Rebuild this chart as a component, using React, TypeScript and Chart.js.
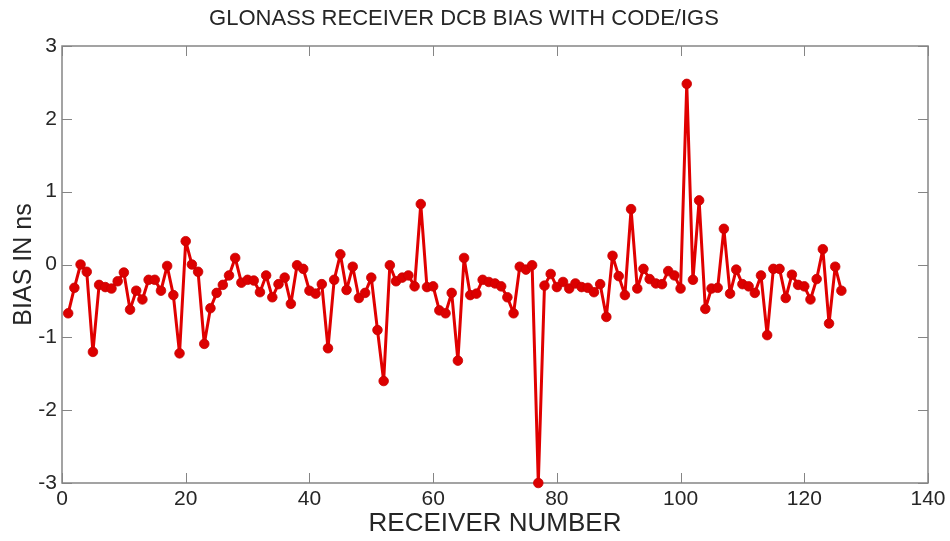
import { useEffect, useRef } from "react";
import { Chart, registerables } from "chart.js";

Chart.register(...registerables);

const chartTitle = "GLONASS RECEIVER DCB BIAS WITH CODE/IGS";
const xAxisTitle = "RECEIVER NUMBER";
const yAxisTitle = "BIAS IN ns";

const xTicks = [0, 20, 40, 60, 80, 100, 120, 140];
const yTicks = [-3, -2, -1, 0, 1, 2, 3];

const dcbBias = [
  -0.67, -0.32, 0.0, -0.1, -1.2, -0.28, -0.31, -0.33, -0.23, -0.11,
  -0.62, -0.36, -0.48, -0.21, -0.21, -0.36, -0.02, -0.42, -1.22, 0.32,
  0.0, -0.1, -1.09, -0.6, -0.39, -0.28, -0.15, 0.09, -0.25, -0.21,
  -0.22, -0.38, -0.15, -0.45, -0.27, -0.18, -0.54, -0.01, -0.06, -0.36,
  -0.4, -0.27, -1.15, -0.21, 0.14, -0.35, -0.03, -0.46, -0.39, -0.18,
  -0.9, -1.6, -0.01, -0.23, -0.18, -0.15, -0.3, 0.83, -0.31, -0.3,
  -0.63, -0.67, -0.39, -1.32, 0.09, -0.42, -0.4, -0.21, -0.24, -0.26,
  -0.3, -0.45, -0.67, -0.03, -0.07, -0.01, -3.0, -0.29, -0.13, -0.31,
  -0.24, -0.33, -0.26, -0.31, -0.32, -0.38, -0.27, -0.72, 0.12, -0.16,
  -0.42, 0.76, -0.33, -0.06, -0.2, -0.26, -0.27, -0.09, -0.15, -0.33,
  2.48, -0.21, 0.88, -0.61, -0.33, -0.32, 0.49, -0.4, -0.07, -0.27,
  -0.3, -0.39, -0.15, -0.97, -0.06, -0.06, -0.46, -0.14, -0.28, -0.3,
  -0.48, -0.2, 0.21, -0.81, -0.03, -0.36,
];

const receiverNumbers = dcbBias.map((_, i) => i + 1);

const FONT = '"Liberation Sans", Arial, sans-serif';
const AXIS_COLOR = "#858585";
const TEXT_COLOR = "#262626";

const boxPlugin = {
  id: "matlabBox",
  beforeDatasetsDraw(chart: any) {
    const { ctx, chartArea, scales } = chart;
    const { left, right, top, bottom } = chartArea;
    const tl = 10;
    ctx.save();
    ctx.strokeStyle = AXIS_COLOR;
    ctx.lineWidth = 1;
    for (const v of xTicks) {
      const px = Math.round(scales.x.getPixelForValue(v)) + 0.5;
      ctx.beginPath();
      ctx.moveTo(px, bottom);
      ctx.lineTo(px, bottom - tl);
      ctx.moveTo(px, top);
      ctx.lineTo(px, top + tl);
      ctx.stroke();
    }
    for (const v of yTicks) {
      const py = Math.round(scales.y.getPixelForValue(v)) + 0.5;
      ctx.beginPath();
      ctx.moveTo(left, py);
      ctx.lineTo(left + tl, py);
      ctx.moveTo(right, py);
      ctx.lineTo(right - tl, py);
      ctx.stroke();
    }
    ctx.lineWidth = 1.5;
    ctx.strokeRect(left, top, right - left, bottom - top);
    ctx.restore();
  },
};

export default function App() {
  const canvasRef = useRef<HTMLCanvasElement | null>(null);

  useEffect(() => {
    if (!canvasRef.current) return;
    const chart = new Chart(canvasRef.current, {
      type: "line",
      data: {
        datasets: [
          {
            data: receiverNumbers.map((x, i) => ({ x, y: dcbBias[i] })),
            borderColor: "#e00000",
            backgroundColor: "#d80000",
            borderWidth: 3,
            borderJoinStyle: "round",
            borderCapStyle: "round",
            pointRadius: 4.8,
            pointBorderWidth: 0.8,
            pointBorderColor: "#c80000",
            pointBackgroundColor: "#dc0000",
            tension: 0,
            clip: false as any,
          },
        ],
      },
      options: {
        animation: false,
        responsive: false,
        devicePixelRatio: 1,
        layout: { padding: { left: 0, right: 22, top: 0, bottom: 0 } },
        plugins: {
          legend: { display: false },
          tooltip: { enabled: false },
          title: {
            display: true,
            text: chartTitle,
            color: TEXT_COLOR,
            font: { family: FONT, size: 22, weight: "normal" },
            padding: { top: 6, bottom: 13.6 },
          },
        },
        scales: {
          x: {
            type: "linear",
            min: 0,
            max: 140,
            grid: { display: false, drawTicks: false },
            border: { display: false },
            afterFit(scale: any) {
              scale.height = 58;
            },
            afterBuildTicks(scale: any) {
              scale.ticks = xTicks.map((v) => ({ value: v }));
            },
            ticks: {
              color: TEXT_COLOR,
              font: { family: FONT, size: 21 },
              padding: 4,
              maxRotation: 0,
              autoSkip: false,
            },
            title: {
              display: true,
              text: xAxisTitle,
              color: TEXT_COLOR,
              font: { family: FONT, size: 26 },
              padding: { top: 0, bottom: 2 },
            },
          },
          y: {
            type: "linear",
            min: -3,
            max: 3,
            grid: { display: false, drawTicks: false },
            border: { display: false },
            afterFit(scale: any) {
              scale.width = 62;
            },
            afterBuildTicks(scale: any) {
              scale.ticks = yTicks.map((v) => ({ value: v }));
            },
            ticks: {
              color: TEXT_COLOR,
              font: { family: FONT, size: 21 },
              padding: 5,
              autoSkip: false,
            },
            title: {
              display: true,
              text: yAxisTitle,
              color: TEXT_COLOR,
              font: { family: FONT, size: 25 },
              padding: { top: 9, bottom: 0 },
            },
          },
        },
      },
      plugins: [boxPlugin],
    });
    return () => chart.destroy();
  }, []);

  return (
    <div
      style={{
        position: "absolute",
        left: 0,
        top: 0,
        width: 950,
        height: 541,
        background: "#ffffff",
      }}
    >
      <canvas ref={canvasRef} width={950} height={541} />
    </div>
  );
}
